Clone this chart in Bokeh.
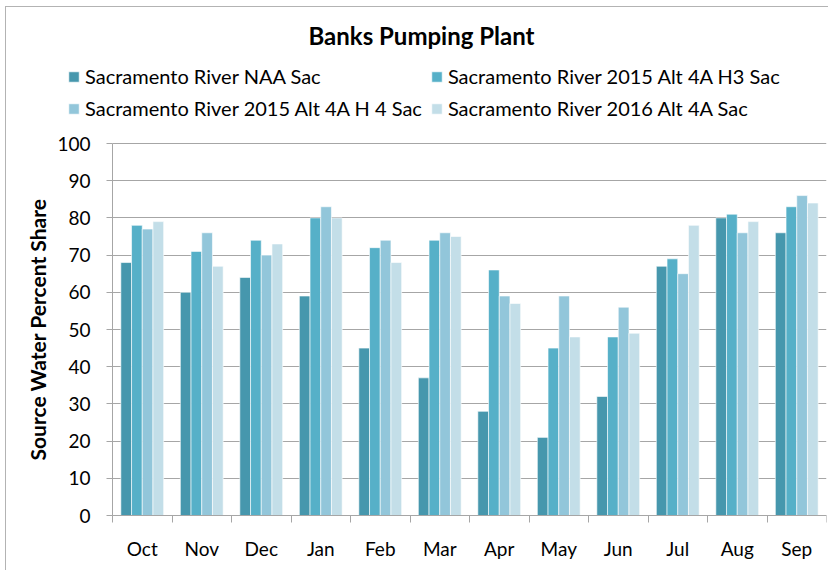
from bokeh.plotting import figure
from bokeh.models import FixedTicker, Legend, LegendItem, Range1d, Label
from bokeh.embed import file_html
from bokeh.resources import INLINE
import numpy as np

months = ["Oct", "Nov", "Dec", "Jan", "Feb", "Mar", "Apr", "May", "Jun", "Jul", "Aug", "Sep"]
naa = [68, 60, 64, 59, 45, 37, 28, 21, 32, 67, 80, 76]
alt_h3 = [78, 71, 74, 80, 72, 74, 66, 45, 48, 69, 81, 83]
alt_h4 = [77, 76, 70, 83, 74, 76, 59, 59, 56, 65, 76, 86]
alt_2016 = [79, 67, 73, 80, 68, 75, 57, 48, 49, 78, 79, 84]
series_names = ["Sacramento River NAA Sac", "Sacramento River 2015 Alt 4A H3 Sac",
                "Sacramento River 2015 Alt 4A H 4 Sac", "Sacramento River 2016 Alt 4A Sac"]
y_ticks = list(range(0, 101, 10))
colors = ["#4697ad", "#56b0c8", "#92c6da", "#c3dee8"]

FONT = "Lato"
GRID = "#a6a6a6"
n = len(months)
centers = np.arange(n) + 0.5
bounds = list(np.arange(n + 1).astype(float))

# layout in pixels
W, H = 828, 570
FRAME_L, FRAME_R, FRAME_T, FRAME_B = 20, 826, 10, 568
PLOT_L, PLOT_T, PLOT_B = 112, 143, 515     # pixels of x=0, y=100, y=0
ppx = (FRAME_R - PLOT_L) / n
x_start = -(PLOT_L - FRAME_L) / ppx
ppy = (PLOT_B - PLOT_T) / 100.0
y_end = 100 + (PLOT_T - FRAME_T) / ppy
y_start = -(FRAME_B - PLOT_B) / ppy

p = figure(width=W, height=H, x_range=Range1d(x_start, n), y_range=Range1d(y_start, y_end),
           output_backend="svg", toolbar_location=None,
           min_border_left=FRAME_L, min_border_right=W - FRAME_R,
           min_border_top=FRAME_T, min_border_bottom=H - FRAME_B)
p.outline_line_color = None
p.border_fill_color = None
p.styles = {"box-shadow": "inset 5px 6px 0 0 white, inset 6px 7px 0 0 #b3b3b3"}

bw = 0.18
offsets = [-1.5 * bw, -0.5 * bw, 0.5 * bw, 1.5 * bw]
renderers = []
for vals, off, col in zip([naa, alt_h3, alt_h4, alt_2016], offsets, colors):
    r = p.vbar(x=centers + off, top=vals, width=bw, bottom=0, fill_color=col,
               line_color="white", line_width=1, line_alpha=0.6)
    renderers.append(r)

# x axis, fixed at y = 0
xa = p.xaxis[0]
xa.fixed_location = 0
xa.bounds = (0, n)
xa.ticker = FixedTicker(ticks=list(centers), minor_ticks=bounds)
xa.major_label_overrides = {float(c): m for c, m in zip(centers, months)}
xa.major_tick_line_color = None
xa.minor_tick_line_color = GRID
xa.minor_tick_out = 7
xa.minor_tick_in = 0
xa.axis_line_color = GRID
xa.major_label_standoff = 14
xa.major_label_text_font = FONT
xa.major_label_text_font_size = "19px"
xa.major_label_text_color = "black"

# y axis, fixed at x = 0
ya = p.yaxis[0]
ya.fixed_location = 0
ya.bounds = (0, 100)
ya.ticker = FixedTicker(ticks=y_ticks)
ya.axis_line_color = GRID
ya.major_tick_line_color = GRID
ya.major_tick_out = 6
ya.major_tick_in = 0
ya.minor_tick_line_color = None
ya.major_label_standoff = 16
ya.major_label_text_font = FONT
ya.major_label_text_font_size = "19px"
ya.major_label_text_color = "black"
ya.axis_label = "Source Water Percent Share"
ya.axis_label_text_font = FONT
ya.axis_label_text_font_style = "bold"
ya.axis_label_text_font_size = "21px"
ya.axis_label_text_color = "black"
ya.axis_label_standoff = 4

p.xgrid.grid_line_color = None
yg = p.ygrid[0]
yg.ticker = FixedTicker(ticks=y_ticks)
yg.grid_line_color = GRID
yg.grid_line_width = 1
yg.bounds = (0, 100)
if "cross_bounds" in yg.properties():
    yg.cross_bounds = (0, n)
else:
    yg.grid_line_color = None
    p.segment(x0=[0] * len(y_ticks), x1=[n] * len(y_ticks), y0=y_ticks, y1=y_ticks,
              line_color=GRID, line_width=1, level="underlay")

# title
title = Label(x=421 - FRAME_L, y=FRAME_B - 35, x_units="screen", y_units="screen",
              text="Banks Pumping Plant", text_font=FONT, text_font_style="bold",
              text_font_size="24px", text_align="center", text_baseline="middle",
              text_color="black")
p.add_layout(title)

legend = Legend(items=[LegendItem(label=nm, renderers=[r]) for nm, r in zip(series_names, renderers)],
                location=(67 - FRAME_L, FRAME_B - 120), orientation="horizontal", ncols=2,
                label_text_font=FONT, label_text_font_size="20px", label_text_color="black",
                glyph_width=13, glyph_height=13, label_height=24, spacing=8,
                label_standoff=5, padding=0, margin=0,
                border_line_color=None, background_fill_alpha=0)
p.add_layout(legend)

open("out.html", "w").write(file_html(p, INLINE))
